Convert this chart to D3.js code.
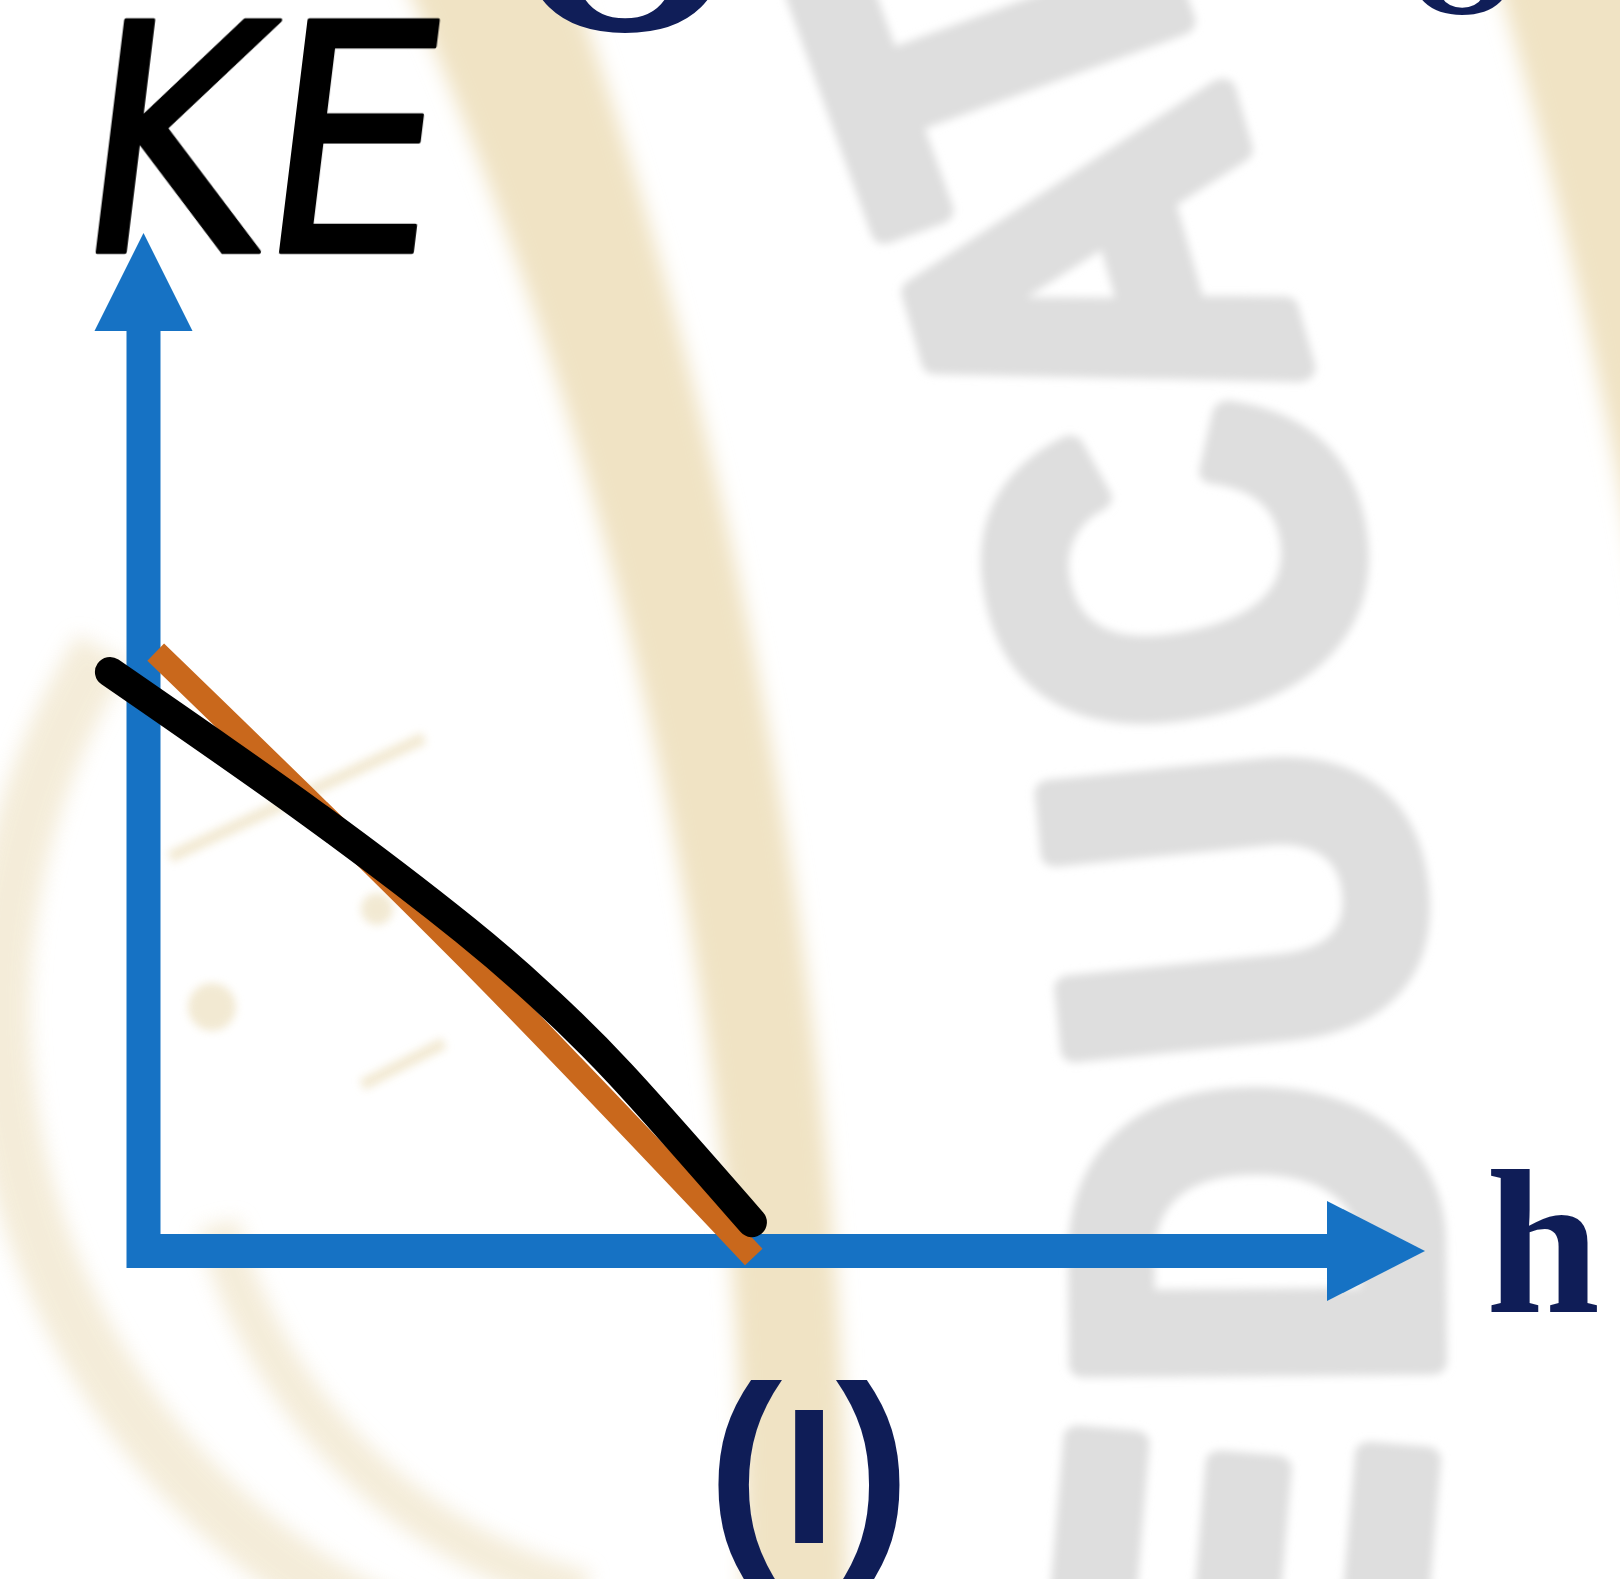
<!DOCTYPE html>
<html>
<head>
<meta charset="utf-8">
<script src="https://cdn.jsdelivr.net/npm/d3@7"></script>
<style>
  html, body { margin: 0; padding: 0; background: #ffffff; overflow: hidden; }
  svg { display: block; }
</style>
</head>
<body>
<svg id="chart" width="1620" height="1579"></svg>
<script>
// Kinetic energy against height, panel (I)
// straight reference line
const hLine  = [0.02, 0.53, 1.0];
const keLine = [1.0, 0.49, -0.01];
// hand-sketched curve drawn over it
const hCurve  = [-0.055, 0.273, 0.527, 0.650, 0.781, 0.997];
const keCurve = [0.967, 0.733, 0.536, 0.428, 0.296, 0.048];
// axis extents (arrow tips)
const hMax = 2.1;
const keMax = 1.7;
// labels
const xLabel = "h";
const yLabel = "KE";
const panelLabel = "I";
const bgWord = "EDUCAT";

const svg = d3.select("#chart");
const W = 1620, H = 1579;

const x = d3.scaleLinear().domain([0, hMax]).range([143.5, 1425]);
const y = d3.scaleLinear().domain([0, keMax]).range([1251, 233]);

const defs = svg.append("defs");
function blurFilter(id, sd) {
  defs.append("filter").attr("id", id)
    .attr("x", "-10%").attr("y", "-10%").attr("width", "120%").attr("height", "120%")
    .append("feGaussianBlur").attr("stdDeviation", sd);
}
blurFilter("soft", 10);
blurFilter("softer", 4);
blurFilter("edge", 0.7);

svg.append("rect").attr("width", W).attr("height", H).attr("fill", "#ffffff");

// ---- background emblem ----
const bg = svg.append("g");

// band between two circles, sampled over the visible height
function band(outer, inner, y0, y1) {
  const o = [], n = [];
  for (let yy = y0; yy <= y1; yy += 10) {
    const dyo = yy - outer.cy, dyi = yy - inner.cy;
    if (Math.abs(dyo) < outer.r) o.push([outer.cx + Math.sqrt(outer.r * outer.r - dyo * dyo), yy]);
    if (Math.abs(dyi) < inner.r) n.push([inner.cx + Math.sqrt(inner.r * inner.r - dyi * dyi), yy]);
  }
  return "M" + o.map(p => p.join(",")).join("L") + "L" + n.reverse().map(p => p.join(",")).join("L") + "Z";
}
const beige = "#f0e3c4";
bg.append("path")
  .attr("d", band({cx: -4075, cy: 1605, r: 4922}, {cx: -3198, cy: 1581, r: 3942}, -60, 1650))
  .attr("fill", beige).attr("filter", "url(#soft)");
bg.append("path")
  .attr("d", band({cx: -4075, cy: 1605, r: 5950}, {cx: -4075, cy: 1605, r: 5804}, -60, 700))
  .attr("fill", beige).attr("filter", "url(#soft)");

// faint rings and marks on the lower left
function arcPath(cx, cy, r, a0, a1) {
  const pts = d3.range(0, 41).map(k => {
    const a = (a0 + (a1 - a0) * k / 40) * Math.PI / 180;
    return [cx + r * Math.cos(a), cy + r * Math.sin(a)];
  });
  return d3.line()(pts);
}
const lowLeft = bg.append("g").attr("fill", "none").attr("stroke", "#f2e8d0")
  .attr("filter", "url(#soft)").attr("opacity", 0.8);
lowLeft.append("path").attr("d", arcPath(680, 1010, 680, 212, 100)).attr("stroke-width", 60);
lowLeft.append("path").attr("d", arcPath(720, 1090, 520, 165, 105)).attr("stroke-width", 42);
const marks = bg.append("g").attr("stroke", "#efe4c8").attr("fill", "#efe4c8")
  .attr("filter", "url(#softer)").attr("opacity", 0.8);
marks.append("line").attr("x1", 170).attr("y1", 857).attr("x2", 424).attr("y2", 738).attr("stroke-width", 12);
marks.append("line").attr("x1", 362).attr("y1", 1085).attr("x2", 444).attr("y2", 1043).attr("stroke-width", 12);
marks.append("circle").attr("cx", 212).attr("cy", 1007).attr("r", 24).attr("stroke", "none");
marks.append("circle").attr("cx", 377).attr("cy", 909).attr("r", 16).attr("stroke", "none");

// large grey lettering set along an arc
const arcC = {cx: -1802, cy: 1265, r: 3052};
const letterY = [1570, 1237, 904, 571, 280, 55];   // centre of each letter along the arc
const fs = 506;
const wordG = bg.append("g").attr("filter", "url(#softer)");
bgWord.split("").forEach((ch, i) => {
  const yc = letterY[i];
  const phi = Math.asin((yc - arcC.cy) / arcC.r);
  const xc = arcC.cx + arcC.r * Math.cos(phi);
  const rot = -90 + 0.85 * phi * 180 / Math.PI;
  wordG.append("text")
    .attr("transform", `translate(${xc},${yc}) rotate(${rot}) scale(0.85,1)`)
    .attr("y", 0.358 * fs)
    .attr("text-anchor", "middle")
    .attr("font-family", "Liberation Sans, Arial, sans-serif")
    .attr("font-weight", "bold")
    .attr("font-size", fs)
    .attr("fill", "#dedede")
    .attr("stroke", "#dedede")
    .attr("stroke-width", 30)
    .attr("stroke-linejoin", "round")
    .text(ch);
});

// bits of the neighbouring caption cut by the top edge
const topText = svg.append("g").attr("fill", "#101e58")
  .attr("font-family", "Liberation Serif, Times New Roman, serif").attr("font-weight", "bold");
topText.append("text").attr("x", 625).attr("y", 30).attr("text-anchor", "middle").attr("font-size", 300).text("O");
topText.append("text").attr("x", 1462).attr("y", 14).attr("text-anchor", "middle").attr("font-size", 150).text("O");

// ---- axes ----
const axisColor = "#1672c4";
const head = 98, halfHead = 49;
const axes = svg.append("g").attr("filter", "url(#edge)");
axes.append("path")
  .attr("d", `M${x(0)},${y(keMax) + head} V${y(0)} H${x(hMax) - head}`)
  .attr("fill", "none").attr("stroke", axisColor).attr("stroke-width", 34)
  .attr("stroke-linejoin", "miter");
axes.append("path")
  .attr("d", `M${x(0)},${y(keMax)} L${x(0) + halfHead},${y(keMax) + head} L${x(0) - halfHead},${y(keMax) + head} Z`)
  .attr("fill", axisColor);
axes.append("path")
  .attr("d", `M${x(hMax)},${y(0)} L${x(hMax) - head},${y(0) - 50} L${x(hMax) - head},${y(0) + 50} Z`)
  .attr("fill", axisColor);

// ---- series ----
svg.append("path")
  .datum(hLine.map((h, i) => [h, keLine[i]]))
  .attr("d", d3.line().x(d => x(d[0])).y(d => y(d[1])).curve(d3.curveNatural))
  .attr("fill", "none").attr("stroke", "#c9681d").attr("stroke-width", 24)
  .attr("filter", "url(#edge)");

svg.append("path")
  .datum(hCurve.map((h, i) => [h, keCurve[i]]))
  .attr("d", d3.line().x(d => x(d[0])).y(d => y(d[1])).curve(d3.curveNatural))
  .attr("fill", "none").attr("stroke", "#000000").attr("stroke-width", 30)
  .attr("stroke-linecap", "round").attr("stroke-linejoin", "round");

// ---- labels ----
svg.append("text")
  .attr("x", 1486).attr("y", 1312)
  .attr("font-family", "Liberation Serif, Times New Roman, serif")
  .attr("font-weight", "bold").attr("font-size", 205)
  .attr("fill", "#0f1d57")
  .text(xLabel);

const pl = svg.append("text")
  .attr("x", 809).attr("y", 1543)
  .attr("text-anchor", "middle")
  .attr("font-family", "Liberation Sans, Arial, sans-serif")
  .attr("font-weight", "bold")
  .attr("fill", "#0f1d57");
pl.append("tspan").attr("font-size", 225).text("(");
pl.append("tspan").attr("font-size", 193).text(panelLabel);
pl.append("tspan").attr("font-size", 225).text(")");

// marker-style axis title
svg.append("g").attr("transform", "translate(0,252) skewX(-7)")
  .append("text")
  .attr("x", 70).attr("y", 0)
  .attr("font-family", "DejaVu Sans, sans-serif")
  .attr("font-size", 318)
  .attr("textLength", 360).attr("lengthAdjust", "spacingAndGlyphs")
  .attr("fill", "#000").attr("stroke", "#000").attr("stroke-width", 4)
  .attr("stroke-linejoin", "round")
  .text(yLabel);
</script>
</body>
</html>
